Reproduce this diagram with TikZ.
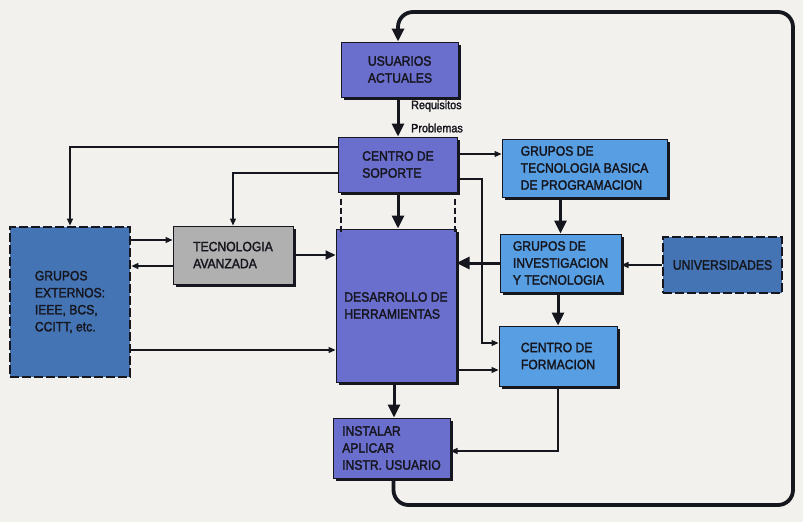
\documentclass[tikz,border=0pt]{standalone}
\usepackage{fontspec}
\setmainfont{Liberation Sans}
\newfontfamily\boxfont[FakeBold=2,FakeStretch=0.9]{Liberation Sans}
\usetikzlibrary{arrows.meta,shadows,calc}
\definecolor{bg}{RGB}{242,241,237}
\definecolor{mainblue}{RGB}{106,110,204}
\definecolor{lightblue}{RGB}{88,158,226}
\definecolor{darkblue}{RGB}{68,116,180}
\definecolor{grayfill}{RGB}{176,176,176}
\definecolor{ink}{RGB}{22,22,30}
\tikzset{
  boxbase/.style={draw=ink, line width=1pt, inner sep=2pt, align=left, text=ink,
    font=\boxfont\fontsize{13.5}{17}\selectfont,
    drop shadow={shadow xshift=2.6pt, shadow yshift=-2.6pt, fill=ink, opacity=1}},
  mainbox/.style={boxbase, fill=mainblue},
  lightbox/.style={boxbase, fill=lightblue},
  graybox/.style={boxbase, fill=grayfill},
  dashbox/.style={draw=ink, line width=2.8pt, dash pattern=on 9pt off 3pt, fill=darkblue,
    inner sep=2pt, align=left, text=ink, font=\boxfont\fontsize{13.5}{17}\selectfont},
  thin/.style={draw=ink, line width=1.2pt, -{Triangle[length=7pt,width=6pt]}},
  thick/.style={draw=ink, line width=3pt, -{Triangle[length=13pt,width=12pt]}},
  medium/.style={draw=ink, line width=2pt, -{Triangle[length=10pt,width=9pt]}},
  loop/.style={draw=ink, line width=3.8pt, rounded corners=15pt, -{Triangle[length=13pt,width=12pt]}},
  dashline/.style={draw=ink, line width=1.6pt, dash pattern=on 6pt off 3pt},
  lbl/.style={text=ink, font=\boxfont\fontsize{12}{12}\selectfont, inner sep=0pt, anchor=west}
}
\begin{document}
\begin{tikzpicture}[x=1pt,y=-1pt]
\fill[bg] (0,0) rectangle (803,522);
\useasboundingbox (0,0) rectangle (803,522);

\coordinate (lb) at (793,505);
\coordinate (lt) at (793,12);

\node[mainbox, minimum width=117pt, minimum height=55pt] (usu) at (400,69.5) {USUARIOS\\ACTUALES};
\node[mainbox, minimum width=119pt, minimum height=55pt] (sop) at (398,164.5) {CENTRO DE\\SOPORTE};
\node[lightbox, minimum width=165pt, minimum height=58pt] (tbp) at (584.5,168) {GRUPOS DE\\TECNOLOGIA BASICA\\DE PROGRAMACION};
\node[graybox, minimum width=120pt, minimum height=58pt] (tav) at (233,255) {TECNOLOGIA\\AVANZADA};
\node[dashbox, minimum width=120pt, minimum height=150pt] (ext) at (70,302) {GRUPOS\\EXTERNOS:\\IEEE, BCS,\\CCITT, etc.};
\node[mainbox, minimum width=120pt, minimum height=153pt] (des) at (396,305.5) {DESARROLLO DE\\HERRAMIENTAS};
\node[lightbox, minimum width=121pt, minimum height=58pt] (inv) at (560.5,263) {GRUPOS DE\\INVESTIGACION\\Y TECNOLOGIA};
\node[dashbox, minimum width=119pt, minimum height=56pt] (uni) at (722.5,265) {UNIVERSIDADES};
\node[lightbox, minimum width=118pt, minimum height=60pt] (for) at (558,356) {CENTRO DE\\FORMACION};
\node[mainbox, minimum width=117pt, minimum height=60pt] (ins) at (391.5,448) {INSTALAR\\APLICAR\\INSTR. USUARIO};

% loop
\path[loop] ([xshift=2pt]ins.south) -- ([xshift=2pt]ins.south |- lb) -- (lb) -- (lt) -- ([xshift=-2pt]usu.north |- lt) -- ([xshift=-2pt]usu.north);

% vertical main flow
\path[thick] ([xshift=-2pt]usu.south) -- ([xshift=-2pt]usu.south |- sop.north);
\node[lbl] (req) at (411,106) {Requisitos};
\node[lbl] (prob) at (411,128) {Problemas};
\path[thick] (sop.south) -- (sop.south |- des.north);
\path[thick] ([xshift=-2pt]des.south) -- ([xshift=-2pt]des.south |- ins.north);

% dashed side lines
\path[dashline] ([xshift=3pt,yshift=-6pt]sop.south west) -- ([xshift=3pt,yshift=-6pt]sop.south west |- des.north);
\path[dashline] ([xshift=-3pt,yshift=-6pt]sop.south east) -- ([xshift=-3pt,yshift=-6pt]sop.south east |- des.north);

% from soporte to the left
\path[thin] ([yshift=17.5pt]sop.west) -| (ext.north);
\path[thin] ([yshift=-8.5pt]sop.west) -| (tav.north);

% from soporte to the right
\path[thin] ([yshift=10.5pt]sop.east) -- ([yshift=10.5pt]sop.east -| tbp.west);
\path[thin] ([yshift=-14.5pt]sop.east) -- ++(24,0) |- ([yshift=13pt]for.west);

% externos / tecnologia
\path[thin] ([yshift=62pt]ext.east) -- ([yshift=62pt]ext.east -| tav.west);
\path[thin] ([yshift=-11pt]tav.west) -- ([yshift=-11pt]tav.west -| ext.east);
\path[medium] (tav.east) -- (tav.east -| des.west);
\path[thin] ([yshift=-48pt]ext.east) -- ([yshift=-48pt]ext.east -| des.west);

% right column
\path[thick] (inv.north |- tbp.south) -- (inv.north);
\path[thick] (inv.west) -- (inv.west -| des.east);
\path[thin] (uni.west) -- (uni.west -| inv.east);
\path[thick] (for.north |- inv.south) -- (for.north);
\path[thin] ([yshift=-64.5pt]des.east) -- ([yshift=-64.5pt]des.east -| for.west);
\path[thin] (for.south) |- ([yshift=-3pt]ins.east);
\end{tikzpicture}
\end{document}
